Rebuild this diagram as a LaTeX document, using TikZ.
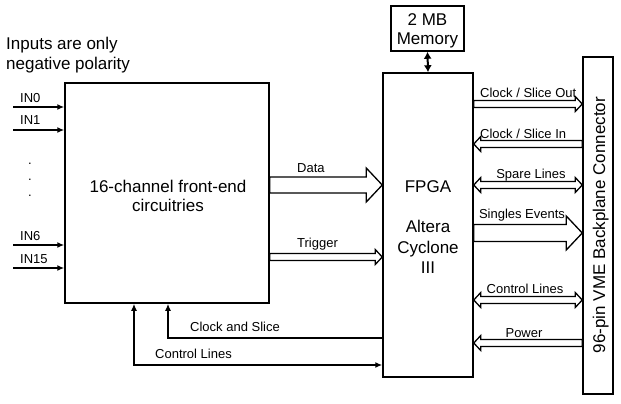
\documentclass[tikz,border=0pt]{standalone}
\usepackage{fontspec}
\setmainfont{Liberation Sans}
\usetikzlibrary{arrows.meta,calc}

% hollow arrows (horizontal): #1 left end, #2 right end, #3 shaft half, #4 head half, #5 head length
\newcommand{\rarr}[5]{\draw[harrow] ($(#1)+(0,#3)$) -- ($(#2)+(-#5,#3)$) -- ($(#2)+(-#5,#4)$) -- (#2) -- ($(#2)+(-#5,-#4)$) -- ($(#2)+(-#5,-#3)$) -- ($(#1)+(0,-#3)$) -- cycle;}
\newcommand{\larr}[5]{\draw[harrow] (#1) -- ($(#1)+(#5,#4)$) -- ($(#1)+(#5,#3)$) -- ($(#2)+(0,#3)$) -- ($(#2)+(0,-#3)$) -- ($(#1)+(#5,-#3)$) -- ($(#1)+(#5,-#4)$) -- cycle;}
\newcommand{\darr}[5]{\draw[harrow] (#1) -- ($(#1)+(#5,#4)$) -- ($(#1)+(#5,#3)$) -- ($(#2)+(-#5,#3)$) -- ($(#2)+(-#5,#4)$) -- (#2) -- ($(#2)+(-#5,-#4)$) -- ($(#2)+(-#5,-#3)$) -- ($(#1)+(#5,-#3)$) -- ($(#1)+(#5,-#4)$) -- cycle;}

\begin{document}
\begin{tikzpicture}[x=1pt,y=-1pt,
  box/.style={draw, line width=1.5pt, inner sep=0pt},
  bigtxt/.style={font=\fontsize{17}{20}\selectfont, inner sep=0pt},
  smalltxt/.style={font=\fontsize{13}{15}\selectfont, inner sep=0pt},
  harrow/.style={draw, fill=white, line width=1.3pt, line join=miter},
  sig/.style={line width=1.6pt, -{Latex[length=7pt,width=6pt]}},
  bisig/.style={line width=1.6pt, {Latex[length=7pt,width=6pt]}-{Latex[length=7pt,width=6pt]}}]
\useasboundingbox (0,0) rectangle (621,404);

% boxes
\node[box, minimum width=204pt, minimum height=220pt] (fe) at (167,193) {};
\node[box, minimum width=90pt, minimum height=304pt] (fpga) at (428,225) {};
\node[box, minimum width=73pt, minimum height=45pt] (mem) at (427.5,28.5) {};
\node[box, minimum width=30pt, minimum height=337pt] (vme) at (598,225.5) {};

% texts in boxes
\node[bigtxt, anchor=base] (fet1) at (168,192) {16-channel front-end};
\node[bigtxt, anchor=base] (fet2) at (168,211) {circuitries};
\node[bigtxt, anchor=base] (fp1) at (428,192) {FPGA};
\node[bigtxt, anchor=base] (fp2) at (428,232) {Altera};
\node[bigtxt, anchor=base] (fp3) at (428,253) {Cyclone};
\node[bigtxt, anchor=base] (fp4) at (428,273) {III};
\node[bigtxt, anchor=base] (mt1) at (427.5,26) {2 MB};
\node[bigtxt, anchor=base] (mt2) at (427.5,45) {Memory};
\node[bigtxt, anchor=base, rotate=90] (vt) at (605,225) {96-pin VME Backplane Connector};

% note
\node[bigtxt, anchor=base west] (n1) at (6,50) {Inputs are only};
\node[bigtxt, anchor=base west] (n2) at (6,70) {negative polarity};

% inputs
\coordinate (i0) at (13,107);
\coordinate (i1) at (13,130);
\coordinate (i6) at (13,245);
\coordinate (i15) at (13,268);
\draw[sig] (i0) -- (fe.west |- i0);
\draw[sig] (i1) -- (fe.west |- i1);
\draw[sig] (i6) -- (fe.west |- i6);
\draw[sig] (i15) -- (fe.west |- i15);
\node[smalltxt, anchor=base west] (l0) at (20,102) {IN0};
\node[smalltxt, anchor=base west] (l1) at (20,124) {IN1};
\node[smalltxt, anchor=base west] (l6) at (20,240) {IN6};
\node[smalltxt, anchor=base west] (l15) at (20,263) {IN15};
\node[smalltxt, anchor=base] (d1) at (30,164) {.};
\node[smalltxt, anchor=base] (d2) at (30,180) {.};
\node[smalltxt, anchor=base] (d3) at (30,196) {.};

% memory link
\draw[line width=2pt, {Latex[length=7pt,width=8pt]}-{Latex[length=7pt,width=8pt]}] (mem.south) -- (fpga.north);

% data / trigger
\coordinate (dA) at (fe.east |- 0,185);
\coordinate (dB) at (fpga.west |- 0,185);
\rarr{dA}{dB}{8}{17}{16}
\node[smalltxt, anchor=base west] (dl) at (297,172) {Data};
\coordinate (tA) at (fe.east |- 0,257);
\coordinate (tB) at (fpga.west |- 0,257);
\rarr{tA}{tB}{3.5}{7.5}{7}
\node[smalltxt, anchor=base west] (tl) at (297,247) {Trigger};

% right side
\coordinate (r1A) at (fpga.east |- 0,104);
\coordinate (r1B) at (vme.west |- 0,104);
\rarr{r1A}{r1B}{3.5}{7.5}{7}
\node[smalltxt, anchor=base west] (r1l) at (480,97) {Clock / Slice Out};

\coordinate (r2A) at (fpga.east |- 0,144);
\coordinate (r2B) at (vme.west |- 0,144);
\larr{r2A}{r2B}{3.5}{7.5}{7}
\node[smalltxt, anchor=base west] (r2l) at (480,138) {Clock / Slice In};

\coordinate (r3A) at (fpga.east |- 0,185);
\coordinate (r3B) at (vme.west |- 0,185);
\darr{r3A}{r3B}{3.5}{7.5}{7}
\node[smalltxt, anchor=base] (r3l) at (531,178) {Spare Lines};

\coordinate (r4A) at (fpga.east |- 0,233);
\coordinate (r4B) at (vme.west |- 0,233);
\rarr{r4A}{r4B}{8.5}{17}{16}
\node[smalltxt, anchor=base] (r4l) at (522,218) {Singles Events};

\coordinate (r5A) at (fpga.east |- 0,300);
\coordinate (r5B) at (vme.west |- 0,300);
\darr{r5A}{r5B}{3.5}{7.5}{7}
\node[smalltxt, anchor=base] (r5l) at (525,293) {Control Lines};

\coordinate (r6A) at (fpga.east |- 0,343);
\coordinate (r6B) at (vme.west |- 0,343);
\larr{r6A}{r6B}{3.5}{7.5}{7}
\node[smalltxt, anchor=base] (r6l) at (524,337) {Power};

% bottom feedback lines
\coordinate (cs) at (fpga.west |- 0,338);
\draw[sig] (cs) -| (fe.south -| 168,0);
\node[smalltxt, anchor=base west] (csl) at (190,331) {Clock and Slice};
\coordinate (cl) at (fpga.west |- 0,365);
\draw[bisig] (fe.south -| 134,0) |- (cl);
\node[smalltxt, anchor=base west] (cll) at (155,358) {Control Lines};
\end{tikzpicture}
\end{document}
